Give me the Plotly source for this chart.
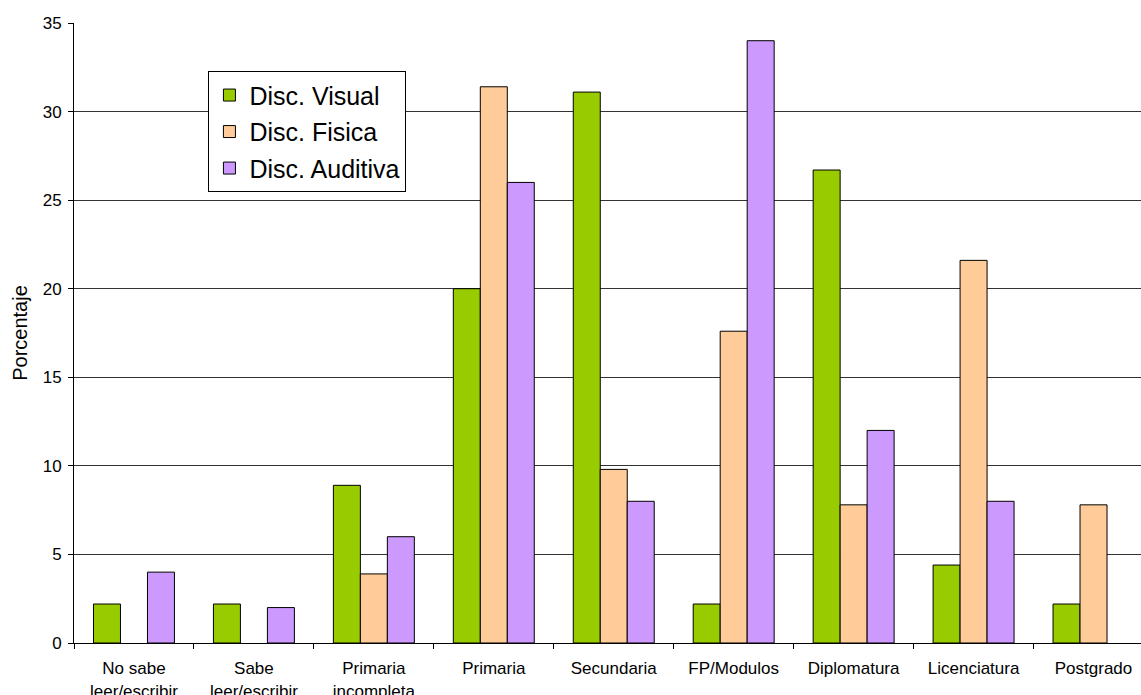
import plotly.graph_objects as go

categories = ["No sabe<br>leer/escribir", "Sabe<br>leer/escribir", "Primaria<br>incompleta",
              "Primaria", "Secundaria", "FP/Modulos", "Diplomatura", "Licenciatura", "Postgrado"]
visual = [2.2, 2.2, 8.9, 20.0, 31.1, 2.2, 26.7, 4.4, 2.2]
fisica = [None, None, 3.9, 31.4, 9.8, 17.6, 7.8, 21.6, 7.8]
auditiva = [4.0, 2.0, 6.0, 26.0, 8.0, 34.0, 12.0, 8.0, None]

series = [("Disc. Visual", visual, "#99CC00"),
          ("Disc. Fisica", fisica, "#FFCC99"),
          ("Disc. Auditiva", auditiva, "#CC99FF")]

fig = go.Figure()
for i, (name, vals, col) in enumerate(series):
    fig.add_trace(go.Bar(x=categories, y=vals, name=name, legendgroup=str(i),
                         marker=dict(color=col, line=dict(color="#000000", width=1))))

FONT = "Arial, Liberation Sans, sans-serif"
left, top, bottom = 73.5, 22.7, 52.3
W, H = 1141, 695
cat_px = 120.0
xmax = -0.5 + (W - left) / cat_px

fig.update_layout(
    width=W, height=H,
    margin=dict(l=left, r=0, t=top, b=bottom, autoexpand=False),
    paper_bgcolor="white", plot_bgcolor="white",
    barmode="group", bargap=0.325, bargroupgap=0,
    font=dict(family=FONT, color="#000000", size=17),
    legend=dict(x=(208 - left) / (W - left), y=1 - (71 - top) / (H - top - bottom),
                xanchor="left", yanchor="top",
                bgcolor="white", bordercolor="#000000", borderwidth=1,
                font=dict(size=25, family=FONT), tracegroupgap=1,
                itemwidth=30),
    xaxis=dict(range=[-0.5, xmax], tickson="boundaries", ticks="outside", ticklen=5,
               tickcolor="#000000", showline=True, linecolor="#000000", linewidth=1,
               showgrid=False, automargin=False, tickfont=dict(size=17),
               ticklabelstandoff=10),
    yaxis=dict(range=[0, 35], dtick=5, ticks="outside", ticklen=5, tickcolor="#000000",
               showline=True, linecolor="#000000", linewidth=1,
               showgrid=True, gridcolor="#333333", gridwidth=1, zeroline=False,
               automargin=False, tickfont=dict(size=17), ticklabelstandoff=3,
               title=dict(text="Porcentaje", font=dict(size=20), standoff=9)),
)

fig.write_html("out.html")
